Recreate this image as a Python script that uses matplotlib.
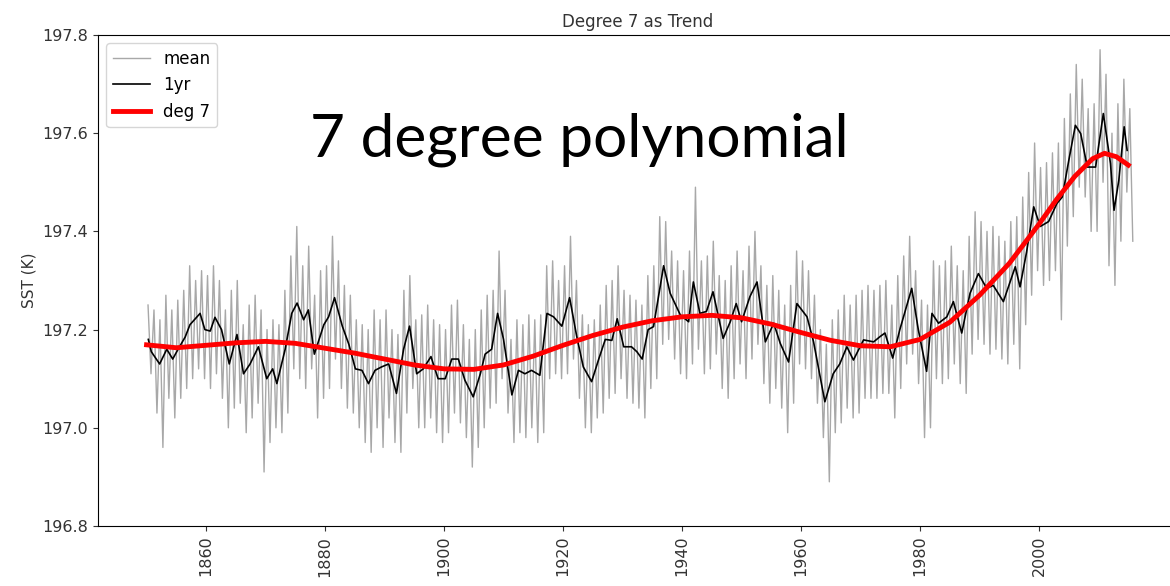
import matplotlib
matplotlib.use("Agg")
import matplotlib.pyplot as plt
import numpy as np

# 1yr running mean (year, K)
years_1yr = [1850.3, 1850.8, 1852.2, 1853.4, 1854.4, 1855.3, 1856.5, 1857.3, 1859.0, 1859.8,
             1860.7, 1861.5, 1862.6, 1863.9, 1865.2, 1866.3, 1867.4, 1868.8, 1870.2, 1871.2,
             1871.9, 1873.3, 1874.4, 1875.3, 1876.4, 1877.2, 1878.2, 1879.8, 1880.6, 1881.6,
             1882.9, 1884.0, 1885.1, 1886.2, 1887.3, 1888.4, 1889.5, 1890.7, 1892.0, 1893.2,
             1894.2, 1895.4, 1896.5, 1897.8, 1899.0, 1900.2, 1901.3, 1902.4, 1903.5, 1904.9,
             1906.1, 1906.9, 1908.0, 1909.0, 1910.0, 1911.4, 1912.5, 1913.6, 1914.7, 1916.1,
             1917.3, 1918.4, 1919.8, 1921.1, 1922.3, 1923.4, 1924.8, 1926.0, 1927.1, 1928.2,
             1929.1, 1930.2, 1931.5, 1932.4, 1933.3, 1934.3, 1935.2, 1936.9, 1938.0, 1939.7,
             1941.1, 1941.9, 1943.0, 1944.1, 1945.2, 1946.9, 1948.1, 1949.1, 1950.0, 1951.4,
             1952.6, 1954.0, 1955.4, 1956.5, 1957.9, 1959.3, 1961.0, 1962.1, 1964.0, 1965.4,
             1966.5, 1967.7, 1968.8, 1970.5, 1972.2, 1973.3, 1974.1, 1975.4, 1976.6, 1978.6,
             1979.7, 1981.1, 1982.0, 1983.1, 1984.5, 1985.6, 1987.0, 1988.4, 1989.8, 1991.2,
             1992.3, 1994.0, 1996.0, 1996.8, 1997.9, 1999.1, 2000.2, 2001.6, 2003.0, 2003.9,
             2005.0, 2006.1, 2007.0, 2008.1, 2009.5, 2010.8, 2012.0, 2012.6, 2013.4, 2014.3,
             2014.8]
sst_1yr = [197.180, 197.155, 197.130, 197.160, 197.140, 197.160, 197.185, 197.210, 197.233, 197.200,
           197.197, 197.225, 197.200, 197.130, 197.190, 197.110, 197.130, 197.165, 197.100, 197.120,
           197.090, 197.160, 197.233, 197.254, 197.220, 197.240, 197.150, 197.210, 197.226, 197.265,
           197.207, 197.170, 197.120, 197.117, 197.090, 197.117, 197.124, 197.130, 197.070, 197.160,
           197.207, 197.110, 197.120, 197.145, 197.100, 197.100, 197.140, 197.140, 197.097, 197.063,
           197.110, 197.150, 197.160, 197.233, 197.180, 197.067, 197.117, 197.110, 197.117, 197.107,
           197.233, 197.226, 197.207, 197.265, 197.186, 197.124, 197.094, 197.140, 197.180, 197.178,
           197.222, 197.165, 197.165, 197.155, 197.140, 197.200, 197.206, 197.330, 197.274, 197.230,
           197.216, 197.297, 197.233, 197.237, 197.277, 197.182, 197.216, 197.253, 197.216, 197.267,
           197.297, 197.175, 197.213, 197.172, 197.134, 197.253, 197.226, 197.175, 197.053, 197.110,
           197.130, 197.165, 197.138, 197.179, 197.175, 197.186, 197.193, 197.142, 197.200, 197.284,
           197.200, 197.115, 197.233, 197.213, 197.226, 197.257, 197.193, 197.274, 197.314, 197.284,
           197.290, 197.257, 197.328, 197.287, 197.358, 197.450, 197.410, 197.420, 197.457, 197.470,
           197.545, 197.616, 197.599, 197.531, 197.531, 197.640, 197.538, 197.443, 197.504, 197.613,
           197.565]

# degree-7 trend
years_deg7 = [1850, 1855, 1860, 1865, 1870, 1875, 1880, 1885, 1890, 1895,
              1900, 1905, 1910, 1915, 1920, 1925, 1930, 1935, 1940, 1945,
              1950, 1955, 1960, 1965, 1970, 1975, 1980, 1985, 1990, 1995,
              2000, 2003, 2006, 2009, 2011, 2013, 2015]
sst_deg7 = [197.169, 197.163, 197.168, 197.173, 197.176, 197.172, 197.162, 197.152, 197.140, 197.128,
            197.120, 197.119, 197.128, 197.146, 197.168, 197.188, 197.205, 197.218, 197.226, 197.229,
            197.224, 197.211, 197.194, 197.178, 197.167, 197.165, 197.180, 197.215, 197.270, 197.335,
            197.415, 197.466, 197.512, 197.548, 197.559, 197.552, 197.535]

# monthly mean: per-year spike highs and lows of the grey trace
years_mean = list(range(1850, 2016))
mean_hi = [197.25, 197.24, 197.22, 197.27, 197.24, 197.26, 197.28, 197.33, 197.30, 197.32,
           197.31, 197.33, 197.30, 197.24, 197.28, 197.30, 197.21, 197.25, 197.27, 197.24,
           197.20, 197.22, 197.21, 197.28, 197.35, 197.41, 197.33, 197.37, 197.27, 197.32,
           197.33, 197.39, 197.34, 197.29, 197.27, 197.22, 197.21, 197.20, 197.24, 197.22,
           197.24, 197.20, 197.19, 197.28, 197.31, 197.22, 197.23, 197.25, 197.22, 197.21,
           197.20, 197.25, 197.26, 197.21, 197.18, 197.20, 197.24, 197.27, 197.28, 197.36,
           197.28, 197.18, 197.22, 197.21, 197.23, 197.22, 197.23, 197.33, 197.34, 197.30,
           197.33, 197.39, 197.30, 197.23, 197.21, 197.22, 197.25, 197.29, 197.30, 197.33,
           197.28, 197.27, 197.26, 197.25, 197.31, 197.33, 197.43, 197.42, 197.36, 197.34,
           197.32, 197.36, 197.49, 197.34, 197.35, 197.38, 197.31, 197.30, 197.33, 197.36,
           197.32, 197.37, 197.40, 197.33, 197.29, 197.31, 197.28, 197.25, 197.29, 197.36,
           197.34, 197.32, 197.27, 197.20, 197.17, 197.22, 197.24, 197.27, 197.25, 197.27,
           197.28, 197.29, 197.28, 197.29, 197.30, 197.25, 197.31, 197.35, 197.39, 197.32,
           197.26, 197.25, 197.34, 197.33, 197.34, 197.37, 197.33, 197.32, 197.39, 197.44,
           197.42, 197.40, 197.41, 197.39, 197.38, 197.42, 197.43, 197.47, 197.52, 197.58,
           197.53, 197.54, 197.56, 197.58, 197.63, 197.68, 197.74, 197.71, 197.65, 197.66,
           197.77, 197.72, 197.60, 197.66, 197.71, 197.65]
mean_lo = [197.11, 197.03, 196.96, 197.06, 197.02, 197.06, 197.08, 197.10, 197.12, 197.10,
           197.08, 197.11, 197.06, 197.00, 197.04, 197.05, 196.99, 197.02, 197.05, 196.91,
           196.97, 197.00, 196.99, 197.03, 197.12, 197.10, 197.08, 197.12, 197.02, 197.06,
           197.08, 197.14, 197.08, 197.04, 197.03, 197.00, 196.97, 196.95, 197.00, 196.96,
           197.02, 196.97, 196.95, 197.03, 197.08, 197.00, 197.00, 197.02, 196.99, 196.97,
           196.99, 197.03, 197.01, 196.98, 196.92, 196.96, 197.00, 197.04, 197.05, 197.10,
           197.03, 196.97, 196.99, 196.98, 197.00, 196.97, 196.99, 197.10, 197.11, 197.10,
           197.11, 197.14, 197.06, 197.00, 196.99, 197.02, 197.03, 197.06, 197.07, 197.10,
           197.06, 197.05, 197.04, 197.02, 197.08, 197.10, 197.17, 197.18, 197.14, 197.11,
           197.10, 197.13, 197.16, 197.11, 197.12, 197.15, 197.08, 197.06, 197.10, 197.13,
           197.10, 197.14, 197.17, 197.09, 197.05, 197.08, 197.04, 196.99, 197.05, 197.13,
           197.12, 197.10, 197.05, 196.98, 196.89, 196.99, 197.01, 197.04, 197.02, 197.03,
           197.06, 197.06, 197.06, 197.07, 197.07, 197.02, 197.08, 197.13, 197.15, 197.09,
           196.98, 197.00, 197.10, 197.09, 197.10, 197.13, 197.09, 197.07, 197.15, 197.18,
           197.17, 197.15, 197.16, 197.14, 197.13, 197.17, 197.12, 197.21, 197.27, 197.32,
           197.29, 197.30, 197.32, 197.22, 197.37, 197.43, 197.49, 197.47, 197.40, 197.40,
           197.50, 197.33, 197.29, 197.38, 197.48, 197.38]

# zig-zag the grey trace: high in the first half of each year, low in the second
mean_t = []
mean_v = []
for y, hi, lo in zip(years_mean, mean_hi, mean_lo):
    mean_t += [y + 0.25, y + 0.75]
    mean_v += [hi, lo]

fig = plt.figure(figsize=(11.7, 5.86), dpi=100)
ax = fig.add_axes([0.0838, 0.1024, 0.9231, 0.8379])

ax.plot(mean_t, mean_v, color='0.6', linewidth=1.0, alpha=0.85, label='mean')
ax.plot(years_1yr, sst_1yr, color='black', linewidth=1.2, label='1yr')
ax.plot(years_deg7, sst_deg7, color='red', linewidth=3.5, label='deg 7')

ax.set_xlim(1841.85, 2023.36)
ax.set_ylim(196.8, 197.8)
ax.set_xticks([1860, 1880, 1900, 1920, 1940, 1960, 1980, 2000])
ax.set_yticks([196.8, 197.0, 197.2, 197.4, 197.6, 197.8])
ax.tick_params(axis='x', labelrotation=90, labelsize=11.5, colors='0.2')
ax.tick_params(axis='y', labelsize=11.5, colors='0.2')
ax.set_ylabel('SST (K)', fontsize=11, color='0.2')
ax.set_title('Degree 7 as Trend', fontsize=12, color='0.2')

ax.legend(loc='upper left', fontsize=12, framealpha=0.8, handlelength=2.2)

# slide annotation laid over the plot
fig.text(0.495, 0.761, '7 degree polynomial', fontsize=43.5, family='Lato',
         ha='center', va='center', color='black')

fig.savefig('out.png', dpi=100)
